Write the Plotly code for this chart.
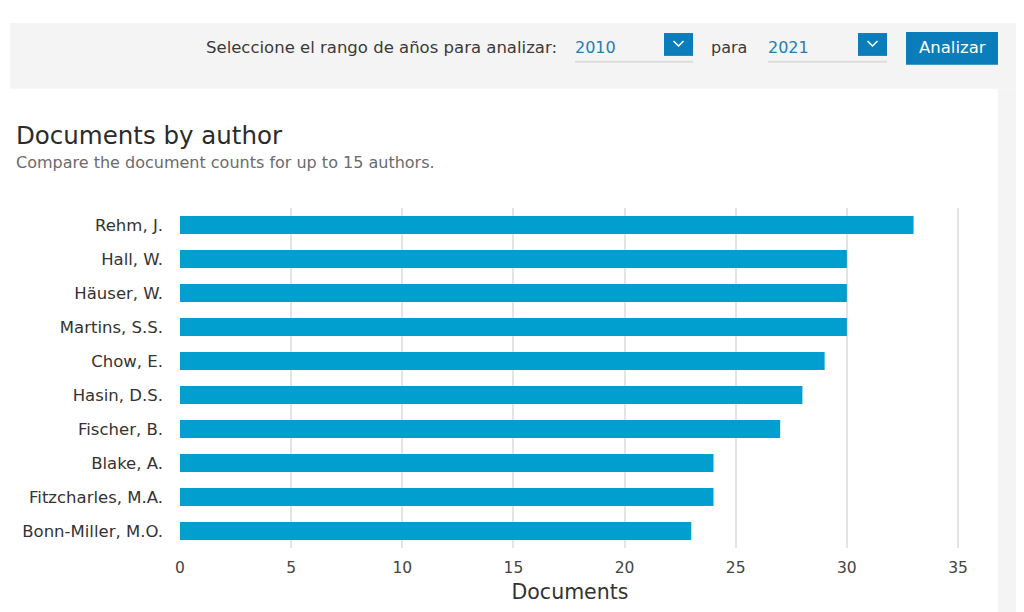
import plotly.graph_objects as go

# Data
authors = ["Rehm, J.", "Hall, W.", "Häuser, W.", "Martins, S.S.", "Chow, E.",
           "Hasin, D.S.", "Fischer, B.", "Blake, A.", "Fitzcharles, M.A.", "Bonn-Miller, M.O."]
documents = [33, 30, 30, 30, 29, 28, 27, 24, 24, 23]
x_ticks = [0, 5, 10, 15, 20, 25, 30, 35]
year_from = "2010"
year_to = "2021"

# the page body puts the figure 8px in from the top-left corner
OFF = 8
W, H = 1024 - OFF, 612 - OFF
L, R, T, B = 180, 960, 208, 550  # plot area in screen pixels

FONT = "DejaVu Sans, Verdana, sans-serif"
BAR = "#009fd0"
BLUE = "#0b7dbb"
PANEL = "#f4f4f4"


def fx(p):
    # screen pixel x -> paper x
    return (p - L) / (R - L)


def fy(p):
    # screen pixel y -> paper y
    return (B - p) / (B - T)


fig = go.Figure()
fig.add_trace(go.Bar(
    x=documents,
    y=authors,
    orientation="h",
    marker=dict(color=BAR, line=dict(width=0)),
    hovertemplate="%{y}: %{x}<extra></extra>",
))

shapes = []


def rect(x0, y0, x1, y1, color):
    shapes.append(dict(type="rect", xref="paper", yref="paper", layer="below",
                       x0=fx(x0), x1=fx(x1), y0=fy(y1), y1=fy(y0),
                       fillcolor=color, line=dict(width=0)))


def line(x0, y0, x1, y1, color, width):
    shapes.append(dict(type="line", xref="paper", yref="paper",
                       x0=fx(x0), x1=fx(x1), y0=fy(y0), y1=fy(y1),
                       line=dict(color=color, width=width)))


# grey header band and right strip
rect(10, 22, 1030, 88, PANEL)
rect(998, 88, 1030, 620, PANEL)

# dropdowns and button
line(575, 61, 693, 61, "#dcdcdc", 2)
line(768, 61, 887, 61, "#dcdcdc", 2)
rect(664, 32, 693, 55, BLUE)
rect(858, 32, 887, 55, BLUE)
rect(906, 31, 998, 64, BLUE)
for cx in (678.5, 872.5):
    shapes.append(dict(type="path", xref="paper", yref="paper",
                       path=f"M {fx(cx - 5)} {fy(40)} L {fx(cx)} {fy(45)} L {fx(cx + 5)} {fy(40)}",
                       line=dict(color="white", width=1.5)))

annotations = []


def text(s, x, y, size, color, anchor="left"):
    annotations.append(dict(text=s, x=fx(x), y=fy(y), xref="paper", yref="paper",
                            xanchor=anchor, yanchor="middle", showarrow=False,
                            font=dict(family=FONT, size=size, color=color)))


text("Seleccione el rango de años para analizar:", 204, 47, 16.5, "#3a3a3a")
text(year_from, 573, 47, 16, "#2b7bb3")
text("para", 709, 47, 16, "#3a3a3a")
text(year_to, 766, 47, 16, "#2b7bb3")
text("Analizar", 952, 47, 16.5, "white", anchor="center")
text("Documents by author", 14, 135, 24.5, "#2b2b2b")
text("Compare the document counts for up to 15 authors.", 14, 162, 16, "#6b6b6b")

fig.update_layout(
    width=W, height=H,
    margin=dict(l=L - OFF, r=W - (R - OFF), t=T - OFF, b=H - (B - OFF)),
    paper_bgcolor="white",
    plot_bgcolor="rgba(0,0,0,0)",
    font=dict(family=FONT, color="#444"),
    showlegend=False,
    bargap=0.47,
    shapes=shapes,
    annotations=annotations,
    xaxis=dict(
        range=[0, 35.09],
        tickvals=x_ticks,
        tickfont=dict(size=15.5, color="#444"),
        showgrid=True, gridcolor="#e4e4e4", gridwidth=2,
        zeroline=False, showline=False,
        ticks="", ticklabelstandoff=8,
        title=dict(text="Documents", font=dict(size=20.5, color="#333"), standoff=9),
        fixedrange=True,
    ),
    yaxis=dict(
        categoryorder="array", categoryarray=authors, autorange="reversed",
        tickfont=dict(size=16.5, color="#333"),
        showgrid=False, zeroline=False, showline=False,
        ticks="", ticklabelstandoff=16,
        fixedrange=True,
    ),
)

fig.write_html("out.html")
